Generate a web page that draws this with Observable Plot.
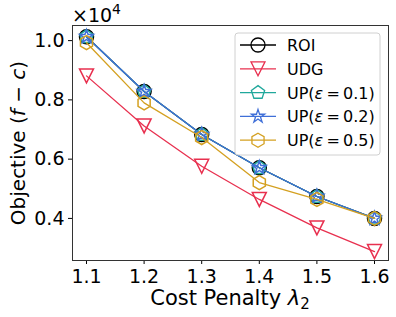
<!DOCTYPE html>
<html><head><meta charset="utf-8">
<script src="https://cdn.jsdelivr.net/npm/d3@7"></script>
<script src="https://cdn.jsdelivr.net/npm/@observablehq/plot@0.6"></script>
<style>
html,body{margin:0;padding:0;background:#fff;}
</style>
</head><body>
<div id="chart"></div>
<script>
const penalties = [1.1, 1.2, 1.3, 1.4, 1.5, 1.6];
const roi   = [10130, 8280, 6830, 5710, 4740, 4000];
const udg   = [8810, 7120, 5760, 4640, 3680, 2880];
const up01  = [10130, 8280, 6830, 5710, 4740, 4000];
const up02  = [10130, 8280, 6830, 5710, 4740, 4000];
const up05  = [9930, 7900, 6730, 5210, 4640, 4000];
const seriesNames = ["ROI", "UDG", "UP(ε = 0.1)", "UP(ε = 0.2)", "UP(ε = 0.5)"];
const seriesColors = ["#000000", "#e8304f", "#20a89c", "#3f6fd8", "#d4a020"];
const xTicks = [1.1, 1.2, 1.3, 1.4, 1.5, 1.6];
const yTicks = [4000, 6000, 8000, 10000];

// custom marker shapes
function regular(n, inner) {
  return {draw(ctx, size) {
    const R = Math.sqrt(size / Math.PI);
    const m = inner ? n * 2 : n;
    for (let i = 0; i < m; i++) {
      const a = Math.PI * 2 * i / m;
      const r = inner && (i % 2) ? R * inner : R;
      const x = r * Math.sin(a), y = -r * Math.cos(a);
      if (i === 0) ctx.moveTo(x, y); else ctx.lineTo(x, y);
    }
    ctx.closePath();
  }};
}
const triDown = {draw(ctx, size) {
  const R = Math.sqrt(size / Math.PI);
  ctx.moveTo(0, R); ctx.lineTo(-R, -R); ctx.lineTo(R, -R); ctx.closePath();
}};
const circleSym = {draw(ctx, size) {
  const R = Math.sqrt(size / Math.PI);
  ctx.moveTo(R, 0); ctx.arc(0, 0, R, 0, 2 * Math.PI);
}};
const symbols = [circleSym, triDown, regular(5), regular(5, 0.381966), regular(6)];

const allValues = [roi, udg, up01, up02, up05];
const data = [];
allValues.forEach((vals, s) => vals.forEach((v, i) => data.push({series: s, x: penalties[i], y: v})));

const marks = [];
allValues.forEach((vals, s) => {
  const d = data.filter(e => e.series === s);
  marks.push(Plot.line(d, {x: "x", y: "y", stroke: seriesColors[s], strokeWidth: 1.3}));
  marks.push(Plot.dot(d, {x: "x", y: "y", r: 7, symbol: () => symbols[s], stroke: seriesColors[s], fill: "none", strokeWidth: 1.5}));
});

const W = 396, H = 317, ML = 72, MR = 8, MT = 25, MB = 57;
const chart = Plot.plot({
  width: W, height: H,
  marginLeft: ML, marginRight: MR, marginTop: MT, marginBottom: MB,
  style: {fontFamily: "DejaVu Sans", fontSize: "19px", color: "#000", background: "#fff"},
  x: {domain: [1.0757, 1.6243], label: null},
  y: {domain: [2580, 10510], label: null},
  symbol: {type: "identity"},
  marks: [
    Plot.axisX({ticks: xTicks, tickFormat: d => d.toFixed(1), tickSize: 4, tickPadding: 5, fontSize: 19, label: null}),
    Plot.axisY({ticks: yTicks, tickFormat: d => (d / 1e4).toFixed(1), tickSize: 4, tickPadding: 4, fontSize: 19, label: null}),
    ...marks,
    Plot.frame({stroke: "#333", strokeWidth: 1})
  ]
});
document.getElementById("chart").appendChild(chart);

const svg = d3.select(chart);
svg.style("font-family", "DejaVu Sans");
svg.selectAll("g[aria-label='x-axis tick label'], g[aria-label='y-axis tick label']")
  .style("font-size", "19px").attr("font-size", 19);
// exponent label
const ex = svg.append("text").attr("x", 72).attr("y", 22).attr("text-anchor", "start").attr("font-size", 19).attr("fill", "#000");
ex.append("tspan").text("×10");
ex.append("tspan").attr("font-size", 14).attr("dy", -8).text("4");

// y label
const yl = svg.append("text").attr("transform", "translate(25,143) rotate(-90)").attr("text-anchor", "middle").attr("font-size", 20).attr("fill", "#000");
yl.append("tspan").text("Objective (");
yl.append("tspan").attr("font-style", "italic").text("f");
yl.append("tspan").text(" − ");
yl.append("tspan").attr("font-style", "italic").text("c");
yl.append("tspan").text(")");

// x label
const xl = svg.append("text").attr("x", 230).attr("y", 305).attr("text-anchor", "middle").attr("font-size", 21).attr("fill", "#000");
xl.append("tspan").text("Cost Penalty ");
xl.append("tspan").attr("font-style", "italic").text("λ");
xl.append("tspan").attr("font-size", 15).attr("dy", 4).text("2");

// legend
const lg = svg.append("g");
lg.append("rect").attr("x", 235).attr("y", 33).attr("width", 145).attr("height", 122).attr("rx", 3)
  .attr("fill", "#fff").attr("fill-opacity", 0.85).attr("stroke", "#d0d0d0").attr("stroke-width", 1);
seriesNames.forEach((name, s) => {
  const yy = 45 + s * 23.8;
  lg.append("line").attr("x1", 240).attr("x2", 276).attr("y1", yy).attr("y2", yy).attr("stroke", seriesColors[s]).attr("stroke-width", 1.3);
  lg.append("path").attr("transform", `translate(258,${yy})`).attr("d", d3.symbol().type(symbols[s]).size(Math.PI * 49)())
    .attr("fill", "none").attr("stroke", seriesColors[s]).attr("stroke-width", 1.3);
  const t = lg.append("text").attr("x", 287).attr("y", yy + 6).attr("text-anchor", "start").attr("font-size", 16).attr("fill", "#000");
  if (s < 2) t.text(name);
  else {
    const eps = name.match(/0\.\d/)[0];
    t.append("tspan").text("UP(");
    t.append("tspan").attr("font-style", "italic").text("ε");
    t.append("tspan").text("\u2009=\u2009" + eps + ")");
  }
});
</script>
</body></html>
